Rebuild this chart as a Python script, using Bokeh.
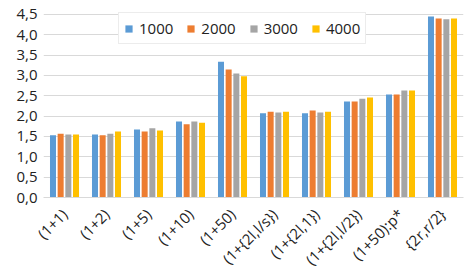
from bokeh.plotting import figure
from bokeh.models import (ColumnDataSource, FactorRange, Range1d, FixedTicker, CustomJSTickFormatter,
                          Legend, LegendItem)
from bokeh.transform import dodge
from bokeh.embed import file_html
from bokeh.resources import INLINE
import math

categories = ["(1+1)", "(1+2)", "(1+5)", "(1+10)", "(1+50)", "(1+{2l,l/s})",
              "(1+{2l,1})", "(1+{2l,l/2})", "(1+50):p*", "{2r,r/2}"]
series_names = ["1000", "2000", "3000", "4000"]
s1000 = [1.53, 1.55, 1.67, 1.87, 3.34, 2.07, 2.07, 2.36, 2.53, 4.45]
s2000 = [1.57, 1.53, 1.62, 1.80, 3.15, 2.11, 2.14, 2.36, 2.53, 4.40]
s3000 = [1.55, 1.57, 1.70, 1.87, 3.05, 2.09, 2.09, 2.43, 2.63, 4.38]
s4000 = [1.55, 1.62, 1.65, 1.84, 2.98, 2.11, 2.11, 2.46, 2.63, 4.40]
y_ticks = [0.0, 0.5, 1.0, 1.5, 2.0, 2.5, 3.0, 3.5, 4.0, 4.5]
colors = ["#5B9BD5", "#ED7D31", "#A5A5A5", "#FFC000"]

FONT = "Open Sans"
TEXT_COLOR = "#222222"

W, H = 466, 279
BL, BR, BT, BB = 43, 3, 10, 82
Y_END = 4.598

source = ColumnDataSource(dict(cat=categories, s1000=s1000, s2000=s2000, s3000=s3000, s4000=s4000))

p = figure(x_range=FactorRange(*categories, range_padding=0),
           y_range=Range1d(0, Y_END),
           width=W, height=H, output_backend="svg", toolbar_location=None,
           min_border_left=BL, min_border_right=BR, min_border_top=BT, min_border_bottom=BB)
p.x_range.factor_padding = 0
p.outline_line_color = None
p.background_fill_color = "white"
p.border_fill_color = "white"

offsets = [-0.274, -0.0915, 0.0915, 0.274]
keys = ["s1000", "s2000", "s3000", "s4000"]
renderers = []
for k, off, c in zip(keys, offsets, colors):
    r = p.vbar(x=dodge("cat", off, range=p.x_range), top=k, width=0.143, source=source,
               fill_color=c, line_color=None)
    renderers.append(r)

p.xgrid.grid_line_color = None
p.ygrid.grid_line_color = "#d9d9d9"
p.ygrid.grid_line_width = 1
p.yaxis.ticker = FixedTicker(ticks=y_ticks, minor_ticks=[])
p.yaxis.formatter = CustomJSTickFormatter(code="return tick.toFixed(1).replace('.', ',');")
p.yaxis.axis_line_color = None
p.yaxis.major_tick_line_color = None
p.yaxis.minor_tick_line_color = None
p.yaxis.major_tick_out = 0
p.yaxis.major_tick_in = 0
p.yaxis.minor_tick_out = 0
p.yaxis.major_label_standoff = 6
p.yaxis.major_label_text_font = FONT
p.yaxis.major_label_text_font_size = "15px"
p.yaxis.major_label_text_color = TEXT_COLOR

p.xaxis.axis_line_color = "#d9d9d9"
p.xaxis.major_tick_line_color = None
p.xaxis.minor_tick_line_color = None
p.xaxis.major_tick_out = 0
p.xaxis.major_tick_in = 0
p.xaxis.minor_tick_out = 0
p.xaxis.major_label_orientation = math.pi / 4
p.xaxis.major_label_standoff = 14
p.xaxis.major_label_text_font = FONT
p.xaxis.major_label_text_font_size = "15px"
p.xaxis.major_label_text_color = TEXT_COLOR

legend = Legend(items=[LegendItem(label=n, renderers=[r]) for n, r in zip(series_names, renderers)],
                orientation="horizontal", location=(75, 153))
legend.glyph_width = 9
legend.glyph_height = 9
legend.label_standoff = 6
legend.spacing = 13
legend.padding = 5
legend.label_height = 19
legend.label_text_font = FONT
legend.label_text_font_size = "15px"
legend.label_text_color = TEXT_COLOR
legend.border_line_color = "#d9d9d9"
legend.border_line_width = 1
legend.background_fill_alpha = 1
legend.margin = 0
p.add_layout(legend, "center")

open("out.html", "w").write(file_html(p, INLINE))
